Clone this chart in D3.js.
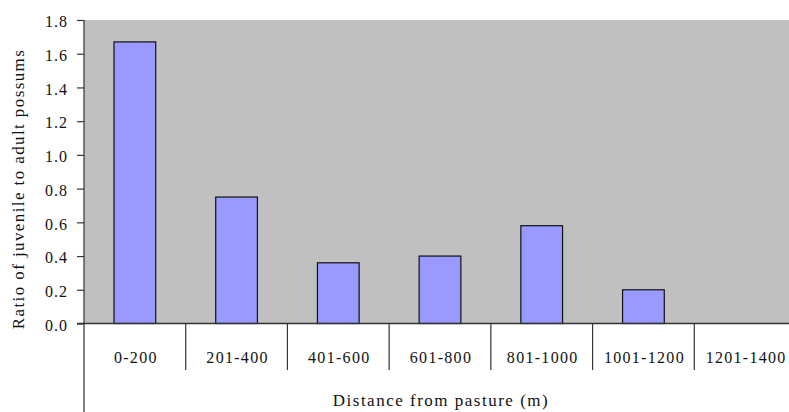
<!DOCTYPE html>
<html>
<head>
<meta charset="utf-8">
<script src="https://cdn.jsdelivr.net/npm/d3@7"></script>
<style>
  body { margin: 0; background: #fff; }
  svg { display: block; }
</style>
</head>
<body>
<div class="chart"></div>
<script>
const categories = ["0-200", "201-400", "401-600", "601-800", "801-1000", "1001-1200", "1201-1400"];
const ratios = [1.67, 0.75, 0.36, 0.40, 0.58, 0.20, 0];
const yTicks = [0, 0.2, 0.4, 0.6, 0.8, 1.0, 1.2, 1.4, 1.6, 1.8];

function juvenileChart() {
  const width = 789;
  const height = 412;
  const left = 84;
  const right = 796;   // plot runs past the window edge
  const top = 20;
  const bottom = 323.5;
  const font = "Liberation Serif";

  const svg = d3.select(".chart").append("svg")
    .attr("width", width)
    .attr("height", height);

  const x = d3.scaleBand()
    .domain(categories)
    .range([left, right])
    .paddingInner(0)
    .paddingOuter(0);

  const y = d3.scaleLinear()
    .domain([0, 1.8])
    .range([bottom, top]);

  // plot area
  svg.append("rect")
    .attr("x", left)
    .attr("y", top)
    .attr("width", right - left)
    .attr("height", bottom - top)
    .attr("fill", "#c0c0c0");

  // bars
  const barW = x.bandwidth() * 0.41;
  svg.selectAll(".bar")
    .data(ratios)
    .enter()
    .append("rect")
    .attr("class", "bar")
    .attr("x", (d, i) => x(categories[i]) + (x.bandwidth() - barW) / 2)
    .attr("y", d => y(d))
    .attr("width", barW)
    .attr("height", d => bottom - y(d))
    .attr("fill", "#9999ff")
    .attr("stroke", d => d > 0 ? "#111" : "none")
    .attr("stroke-width", 1.2);

  // y axis
  const yAxis = d3.axisLeft(y)
    .tickValues(yTicks)
    .tickSize(7)
    .tickFormat(d3.format(".1f"));

  const gy = svg.append("g")
    .attr("transform", "translate(" + left + ",0)")
    .call(yAxis);
  gy.select(".domain").remove();
  gy.selectAll(".tick line").attr("stroke", "#333").attr("stroke-width", 1.2);
  gy.selectAll(".tick text")
    .attr("x", -16)
    .attr("dy", "0.42em")
    .style("font-family", font)
    .style("font-size", "16px")
    .style("letter-spacing", "1px")
    .attr("fill", "#111");

  // left axis line, running to the bottom of the window
  svg.append("line")
    .attr("x1", left).attr("x2", left)
    .attr("y1", top).attr("y2", height)
    .attr("stroke", "#333")
    .attr("stroke-width", 1.2);

  // baseline
  svg.append("line")
    .attr("x1", left - 7).attr("x2", right)
    .attr("y1", y(0)).attr("y2", y(0))
    .attr("stroke", "#333")
    .attr("stroke-width", 1.5);

  // category separators below the baseline
  svg.selectAll(".sep")
    .data(categories.slice(1))
    .enter()
    .append("line")
    .attr("class", "sep")
    .attr("x1", d => x(d)).attr("x2", d => x(d))
    .attr("y1", bottom).attr("y2", 370)
    .attr("stroke", "#333")
    .attr("stroke-width", 1.2);

  // category labels
  svg.selectAll(".cat")
    .data(categories)
    .enter()
    .append("text")
    .attr("class", "cat")
    .attr("x", d => x(d) + x.bandwidth() / 2 + 1)
    .attr("y", 363)
    .style("text-anchor", "middle")
    .style("font-family", font)
    .style("font-size", "16px")
    .style("letter-spacing", "1.3px")
    .attr("fill", "#111")
    .text(d => d);

  // axis titles
  svg.append("text")
    .attr("x", 441)
    .attr("y", 406)
    .style("text-anchor", "middle")
    .style("font-family", font)
    .style("font-size", "17px")
    .style("letter-spacing", "1.5px")
    .attr("fill", "#111")
    .text("Distance from pasture (m)");

  svg.append("text")
    .attr("transform", "translate(24,189) rotate(-90)")
    .style("text-anchor", "middle")
    .style("font-family", font)
    .style("font-size", "17px")
    .style("letter-spacing", "1.4px")
    .attr("fill", "#111")
    .text("Ratio of juvenile to adult possums");
}

juvenileChart();
</script>
</body>
</html>
